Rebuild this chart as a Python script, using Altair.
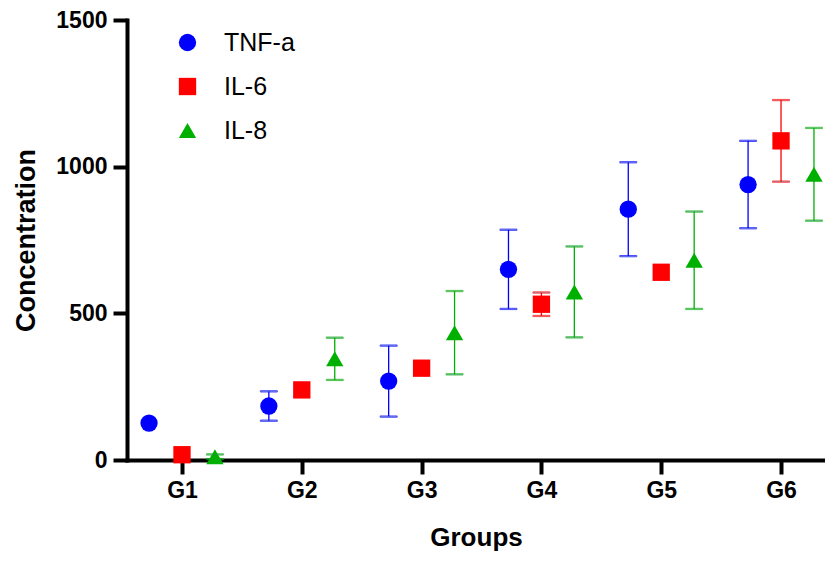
import altair as alt
import pandas as pd

groups = ["G1", "G2", "G3", "G4", "G5", "G6"]
series = ["TNF-a", "IL-6", "IL-8"]
colors = ["#0000ff", "#ff0000", "#00b000"]
shapes = ["circle", "square", "triangle-up"]

tnf_mean = [126, 184, 269, 650, 855, 939]
tnf_sd = [0, 50, 121, 135, 160, 149]
il6_mean = [18, 239, 313, 531, 640, 1088]
il6_sd = [0, 0, 0, 40, 0, 139]
il8_mean = [11, 345, 434, 573, 681, 974]
il8_sd = [8, 72, 142, 155, 166, 158]

offsets = [-0.275, 0.0, 0.275]
means = [tnf_mean, il6_mean, il8_mean]
sds = [tnf_sd, il6_sd, il8_sd]

rows = []
for s, name in enumerate(series):
    for g, grp in enumerate(groups):
        m = means[s][g]
        sd = sds[s][g]
        rows.append({
            "series": name,
            "group": grp,
            "pos": g + 1 + offsets[s],
            "mean": m,
            "sd": sd,
            "low": m - sd,
            "high": m + sd,
        })
df = pd.DataFrame(rows)

label_expr = "[" + ",".join("'" + g + "'" for g in groups) + "][datum.value - 1]"

x_scale = alt.Scale(domain=[0.541, 6.367], nice=False, zero=False)
y_scale = alt.Scale(domain=[0, 1500], nice=False)

x_enc = alt.X("pos:Q", scale=x_scale,
              axis=alt.Axis(values=[1, 2, 3, 4, 5, 6], labelExpr=label_expr,
                            title="Groups", grid=False, tickSize=14, tickWidth=4,
                            domainWidth=4, domainColor="black", tickColor="black",
                            domainCap="square",
                            labelFontSize=23, labelFontWeight="bold", labelPadding=5,
                            labelColor="black",
                            titleFontSize=26, titleFontWeight="bold", titlePadding=22,
                            titleColor="black"))
y_enc_axis = alt.Axis(values=[0, 500, 1000, 1500], format="d", title="Concentration",
                      grid=False,
                      tickSize=14, tickWidth=4, domainWidth=4, domainColor="black",
                      tickColor="black", domainCap="square",
                      labelFontSize=23, labelFontWeight="bold", labelPadding=6,
                      labelColor="black",
                      titleFontSize=27, titleFontWeight="bold", titlePadding=15,
                      titleColor="black")

color_scale = alt.Scale(domain=series, range=colors)
shape_scale = alt.Scale(domain=series, range=shapes)
# error-bar stroke scale: same colours, listed in another order so that its
# (hidden) legend is not merged with the visible one
pairs = sorted(zip(series, colors))
stroke_scale = alt.Scale(domain=[p[0] for p in pairs], range=[p[1] for p in pairs])

base = alt.Chart(df)

err = base.transform_filter("datum.sd > 0")

rules = err.mark_rule(strokeWidth=1.3).encode(
    x=x_enc,
    y=alt.Y("low:Q", scale=y_scale, axis=y_enc_axis),
    y2="high:Q",
    stroke=alt.Stroke("series:N", scale=stroke_scale, legend=None),
)

caps = err.transform_fold(["low", "high"], as_=["end", "val"]).mark_tick(
    orient="horizontal", size=17, thickness=1.3
).encode(
    x=x_enc,
    y=alt.Y("val:Q", scale=y_scale, axis=y_enc_axis),
    stroke=alt.Stroke("series:N", scale=stroke_scale, legend=None),
)

legend = alt.Legend(title=None, orient="none", legendX=48, legendY=10,
                    labelFontSize=25, labelColor="black",
                    symbolSize=300, labelOffset=24, rowPadding=18, padding=0,
                    symbolStrokeWidth=0)

points = base.mark_point(filled=True, size=300, opacity=1).encode(
    x=x_enc,
    y=alt.Y("mean:Q", scale=y_scale, axis=y_enc_axis),
    color=alt.Color("series:N", scale=color_scale, legend=legend),
    shape=alt.Shape("series:N", scale=shape_scale, legend=legend),
)

chart = alt.layer(points, rules, caps).properties(
    width=698, height=440,
    autosize=alt.AutoSizeParams(type="none"),
    padding={"left": 119, "top": 12, "right": 0, "bottom": 93},
).configure(
    font="Liberation Sans",
).configure_view(stroke=None)

chart.save("out.html", embed_options={"renderer": "svg", "actions": False})
